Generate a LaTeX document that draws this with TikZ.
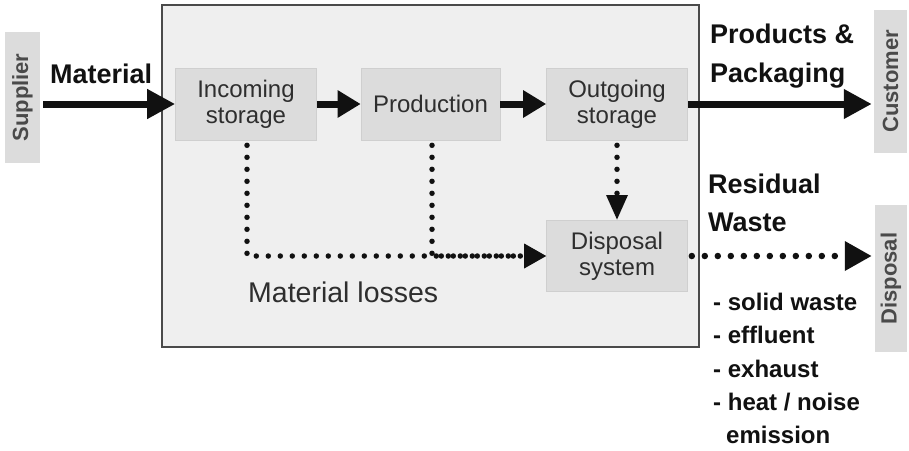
\documentclass[tikz,border=0pt]{standalone}
\usepackage{graphicx}
\usepackage{fontspec}
\setmainfont{Liberation Sans}
\usetikzlibrary{arrows.meta}

\definecolor{plantfill}{HTML}{EFEFEF}
\definecolor{plantedge}{HTML}{4A4A4A}
\definecolor{boxfill}{HTML}{DCDCDC}
\definecolor{boxedge}{HTML}{CFCFCF}
\definecolor{boxtext}{HTML}{2E2E2E}
\definecolor{sidetext}{HTML}{4A4A4A}
\definecolor{ink}{HTML}{111111}

\begin{document}
\begin{tikzpicture}[x=1pt,y=-1pt,
  stagebox/.style={draw=boxedge, line width=0.6pt, fill=boxfill, minimum width=141pt,
    minimum height=72pt, inner sep=0pt, align=center, text=boxtext,
    font=\fontsize{24}{26}\selectfont},
  sidebox/.style={fill=boxfill, inner sep=0pt, text=sidetext,
    font=\bfseries\fontsize{22}{24}\selectfont},
  flowlabel/.style={anchor=base west, inner sep=0pt, text=ink,
    font=\bfseries\fontsize{27}{30}\selectfont},
  wastelabel/.style={anchor=base west, inner sep=0pt, text=ink,
    font=\bfseries\fontsize{24}{26}\selectfont},
  flow/.style={draw=ink, line width=7pt, -{Triangle[length=28pt,width=28pt]}},
  innerflow/.style={draw=ink, line width=7pt, -{Triangle[length=23pt,width=26pt]}},
  loss/.style={draw=ink, line width=5.5pt, line cap=round, dash pattern=on 0pt off 12pt},
]
\useasboundingbox (0,0) rectangle (909,450);
\fill[white] (0,0) rectangle (909,450);

% plant boundary
\node[draw=plantedge, line width=1.6pt, fill=plantfill, minimum width=537pt,
  minimum height=342pt, inner sep=0pt] (plant) at (430.5,176) {};

% outside parties
\node[sidebox, minimum width=35pt, minimum height=131pt] (supplier) at (22.5,97.5)
  {\rotatebox{90}{Supplier}};
\node[sidebox, minimum width=33pt, minimum height=143pt] (customer) at (890.5,81.5)
  {\rotatebox{90}{Customer}};
\node[sidebox, minimum width=32pt, minimum height=147pt] (disposal) at (891,278.5)
  {\rotatebox{90}{Disposal}};

% process stages
\node[stagebox] (incoming) at (246,104) {Incoming\\storage};
\node[stagebox, minimum width=139pt] (production) at (430.5,104) {Production};
\node[stagebox] (outgoing) at (617,104) {Outgoing\\storage};
\node[stagebox, minimum height=71pt] (dispsys) at (617,256) {Disposal\\system};

% material flow
\draw[flow, shorten <=3pt] (incoming.west -| supplier.east) -- (incoming.west);
\draw[innerflow] (incoming.east) -- (production.west);
\draw[innerflow] (production.east) -- (outgoing.west);
\draw[flow, shorten >=2pt] (outgoing.east) -- (outgoing.east -| customer.west);

% losses and residual waste
\draw[loss, shorten <=5pt] ([xshift=1pt]incoming.south) |- ([xshift=-22pt]dispsys.west);
\draw[loss, shorten <=5pt] ([xshift=1.5pt]production.south) |- ([xshift=-22pt]dispsys.west);
\fill[ink] (dispsys.west) -- ++(-22,-12.5) -- ++(0,25) -- cycle;
\draw[loss, shorten <=5pt, -{Triangle[length=25pt,width=20pt]}]
  (outgoing.south) -- (dispsys.north);
\draw[loss, line width=6.5pt, dash pattern=on 0pt off 13pt, shorten <=4pt, shorten >=3pt,
  -{Triangle[length=27pt,width=28pt]}]
  (dispsys.east) -- (dispsys.east -| disposal.west);

% labels
\node[flowlabel] (matlabel) at (50,83) {Material};
\node[flowlabel] (prodlabel) at (710,43) {Products \&};
\node[flowlabel] (packlabel) at (710,82) {Packaging};
\node[flowlabel] (reslabel) at (708,193) {Residual};
\node[flowlabel] (wastelabel) at (708,231) {Waste};
\node[anchor=base west, inner sep=0pt, text=boxtext,
  font=\fontsize{28.5}{30}\selectfont] (losses) at (248,302) {Material losses};

\node[wastelabel] (solid) at (713,310) {- solid waste};
\node[wastelabel] (effluent) at (713,343) {- effluent};
\node[wastelabel] (exhaust) at (713,377) {- exhaust};
\node[wastelabel] (heat) at (713,410) {- heat / noise};
\node[wastelabel] (emission) at (726,443) {emission};
\end{tikzpicture}
\end{document}
